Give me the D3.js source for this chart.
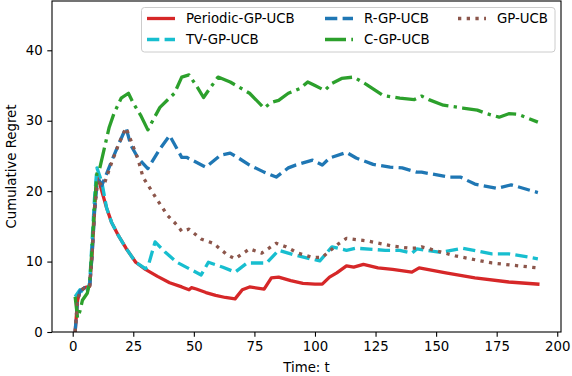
<!DOCTYPE html>
<html>
<head>
<meta charset="utf-8">
<script src="https://cdn.jsdelivr.net/npm/d3@7"></script>
<style>
  body { margin: 0; background: #fff; }
  text { font-family: "DejaVu Sans", sans-serif; }
</style>
</head>
<body>
<div id="my_dataviz"></div>
<script>
// data: [t, cumulative regret]
var periodic = [[1,0],[2,4.5],[3,5.8],[5,6.3],[7,6.5],[8,11],[9,17.5],[10,22.3],[11,21.3],[12,20],[14,17.6],[16,15.6],[19,13.6],[22,11.9],[26,9.9],[30,8.9],[35,7.9],[40,7.0],[45,6.4],[48,6.0],[49,6.3],[51,6.1],[55,5.6],[59,5.2],[63,4.9],[67,4.7],[70,6.0],[73,6.4],[79,6.1],[82,7.7],[85,7.8],[90,7.3],[95,6.9],[100,6.8],[103,6.8],[106,7.8],[109,8.4],[113,9.4],[116,9.2],[120,9.6],[126,9.1],[132,8.9],[140,8.5],[143,9.1],[154,8.4],[166,7.7],[180,7.1],[192,6.8]];
var tv = [[1,5],[3,6],[5,5.5],[6,5.8],[7,7],[8,13],[9,19],[10,23.3],[12,21.3],[14,17.6],[16,15.6],[19,13.6],[22,11.9],[26,9.9],[30,9.0],[31,9.2],[34,12.8],[38,11.4],[43,9.9],[48,9.0],[53,8.1],[56,9.9],[62,9.2],[67,8.5],[72,9.8],[80,9.8],[85,11.6],[92,10.9],[98,10.4],[102,10.1],[107,12.1],[113,11.6],[117,11.9],[129,11.6],[135,11.6],[140,11.2],[142,11.8],[152,11.3],[161,11.9],[173,11.1],[180,11.1],[192,10.4]];
var rgp = [[1,0],[2,4.5],[3,5.8],[5,6.3],[7,6.5],[8,11],[9,17],[10,21],[11,21.5],[12,20.8],[14,22.5],[16,24.2],[19,26.7],[22,29],[24,26.5],[27,24.7],[31,23.2],[36,26],[40,27.9],[45,24.8],[47,24.8],[55,23.4],[61,25.1],[65,25.4],[68,24.8],[73,23.7],[79,22.7],[84,22],[89,23.3],[92,23.7],[99,24.4],[103,23.7],[106,24.7],[113,25.5],[117,24.7],[124,23.8],[131,23.4],[136,23.3],[142,22.7],[144,22.7],[155,22],[160,22],[166,21],[175,20.4],[181,20.9],[192,19.8]];
var cgp = [[1,5],[2,2],[3,3],[4,4.5],[6,5.5],[7,7],[8,12],[9,18],[10,22.5],[11,23],[13,26],[15,29],[17,31],[20,33.2],[23,33.9],[25,32.5],[28,30.8],[31,28.7],[33,30],[36,31.9],[39,32.9],[42,33.9],[45,36.2],[48,36.5],[51,35],[54,33.3],[56,34.3],[60,36.2],[65,35.5],[73,33.9],[79,31.8],[82,32.6],[85,32.9],[89,33.9],[94,34.6],[97,35.5],[100,35],[104,34.3],[107,35.3],[111,36],[116,36.2],[121,35.2],[128,33.6],[135,33.2],[141,33],[144,33.5],[147,33.0],[153,32.2],[161,31.8],[167,31.5],[171,31],[176,30.5],[180,31],[184,30.9],[192,29.8]];
var gp = [[1,0],[2,4.5],[3,5.8],[5,6.3],[7,6.5],[8,11],[9,17],[10,20.5],[11,21.2],[12,20.8],[13,21],[16,24],[19,26.7],[22,29],[24,27.2],[27,24.5],[29,22],[31,20.9],[35,18.7],[37,17.7],[39,16.6],[43,15.2],[45,14.3],[48,14.6],[53,13.2],[58,12.6],[64,10.9],[67,10.4],[73,11.8],[78,11.2],[84,12.6],[88,12.1],[93,11.2],[99,10.6],[103,10.6],[105,11.2],[110,12.6],[113,13.3],[122,12.9],[132,12.2],[139,11.9],[142,11.9],[144,12.1],[158,10.8],[173,9.8],[192,9.1]];

var names = ["Periodic-GP-UCB", "TV-GP-UCB", "R-GP-UCB", "C-GP-UCB", "GP-UCB"];
var colors = ["#d62728", "#17becf", "#1f77b4", "#2ca02c", "#8c564b"];
var dashes = [null, "12.3,5.3", "12.3,5.3", "21,5.3,3.3,5.3", "3.3,5.4"];
var xTicks = [0, 25, 50, 75, 100, 125, 150, 175, 200];
var yTicks = [0, 10, 20, 30, 40];

var series = [periodic, tv, rgp, cgp, gp];

var W = 572, H = 376;
var pLeft = 52, pRight = 561, pTop = 1, pBottom = 332;

var svg = d3.select("#my_dataviz")
  .append("svg")
  .attr("width", W)
  .attr("height", H);

svg.append("rect").attr("width", W).attr("height", H).attr("fill", "#fff");

var x = d3.scaleLinear().domain([-8.55, 201.55]).range([pLeft, pRight]);
var y = d3.scaleLinear().domain([0, 47]).range([pBottom, pTop]);

// clip the lines to the axes box
svg.append("clipPath").attr("id", "clip")
  .append("rect")
  .attr("x", pLeft).attr("y", pTop)
  .attr("width", pRight - pLeft).attr("height", pBottom - pTop);

var line = d3.line()
  .x(function(d) { return x(d[0]); })
  .y(function(d) { return y(d[1]); });

svg.append("g")
  .attr("clip-path", "url(#clip)")
  .selectAll("path")
  .data(series)
  .enter()
  .append("path")
  .attr("d", line)
  .attr("fill", "none")
  .attr("stroke", function(d, i) { return colors[i]; })
  .attr("stroke-width", 3.3)
  .attr("stroke-linejoin", "round")
  .attr("stroke-linecap", function(d, i) { return i == 0 ? "square" : "butt"; })
  .attr("stroke-dasharray", function(d, i) { return dashes[i]; });

// X axis
var xAxis = svg.append("g")
  .attr("transform", "translate(0," + pBottom + ")")
  .call(d3.axisBottom(x).tickValues(xTicks).tickSize(4.7).tickPadding(4.7));

// Y axis
var yAxis = svg.append("g")
  .attr("transform", "translate(" + pLeft + ",0)")
  .call(d3.axisLeft(y).tickValues(yTicks).tickSize(4.7).tickPadding(4.7));

[xAxis, yAxis].forEach(function(a) {
  a.select(".domain").remove();
  a.selectAll("line").attr("stroke", "#000").attr("stroke-width", 1.1);
  a.selectAll("text").attr("font-size", "13.3px").attr("fill", "#000")
    .attr("font-family", "DejaVu Sans, sans-serif");
});

// frame
svg.append("rect")
  .attr("x", pLeft).attr("y", pTop)
  .attr("width", pRight - pLeft).attr("height", pBottom - pTop)
  .attr("fill", "none")
  .attr("stroke", "#000")
  .attr("stroke-width", 1.1);

// axis labels
svg.append("text")
  .attr("x", (pLeft + pRight) / 2)
  .attr("y", 372)
  .attr("text-anchor", "middle")
  .attr("font-size", "13.3px")
  .text("Time: t");

svg.append("text")
  .attr("transform", "translate(16," + (pTop + pBottom) / 2 + ") rotate(-90)")
  .attr("text-anchor", "middle")
  .attr("font-size", "13.3px")
  .text("Cumulative Regret");

// legend, 3 columns filled column by column
var colX = [147, 325, 458];
var rowY = [18.5, 39.5];

svg.append("rect")
  .attr("x", 141.5).attr("y", 7.5)
  .attr("width", 555 - 141.5).attr("height", 52 - 7.5)
  .attr("rx", 3)
  .attr("fill", "#fff").attr("fill-opacity", 0.8)
  .attr("stroke", "#cccccc").attr("stroke-width", 1);

var leg = svg.append("g")
  .selectAll("g")
  .data(names)
  .enter()
  .append("g")
  .attr("transform", function(d, i) {
    return "translate(" + colX[Math.floor(i / 2)] + "," + rowY[i % 2] + ")";
  });

leg.append("line")
  .attr("x1", 0).attr("x2", 28)
  .attr("stroke", function(d, i) { return colors[i]; })
  .attr("stroke-width", 3.3)
  .attr("stroke-dasharray", function(d, i) { return dashes[i]; });

leg.append("text")
  .attr("x", 39)
  .attr("dy", "0.35em")
  .attr("font-size", "13.3px")
  .text(function(d) { return d; });
</script>
</body>
</html>
